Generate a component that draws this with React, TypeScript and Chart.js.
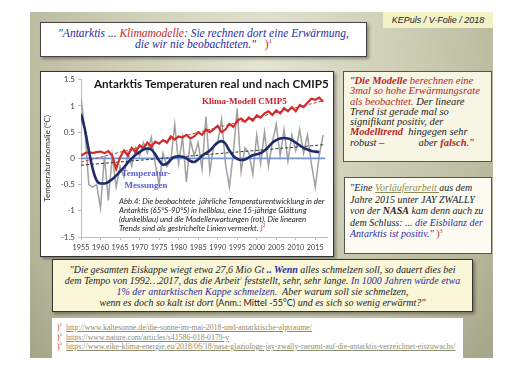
import React, { useEffect, useRef } from "react";
import Chart from "chart.js/auto";

// ---------- data ----------
const years = [
  1955, 1956, 1957, 1958, 1959, 1960, 1961, 1962, 1963, 1964,
  1965, 1966, 1967, 1968, 1969, 1970, 1971, 1972, 1973, 1974,
  1975, 1976, 1977, 1978, 1979, 1980, 1981, 1982, 1983, 1984,
  1985, 1986, 1987, 1988, 1989, 1990, 1991, 1992, 1993, 1994,
  1995, 1996, 1997, 1998, 1999, 2000, 2001, 2002, 2003, 2004,
  2005, 2006, 2007, 2008, 2009, 2010, 2011, 2012, 2013, 2014,
  2015, 2016, 2017,
];
// observed annual anomalies (grey)
const observed = [
  1.15, 0.55, -0.5, -0.55, -0.5, -0.95, 0.05, -0.8, 0.05, -0.55,
  -0.15, -0.35, 0.1, -0.15, 0.2, 0.05, 0.3, 0.1, 0.4, -0.1,
  -0.5, 0.1, -0.15, -0.05, 0.65, -0.1, 0.4, -0.45, 0.35, 0.05,
  0.3, -0.2, 0.8, -0.25, 0.25, 0.3, 0.75, -0.1, -0.55, 0.1,
  0.95, -0.25, 0.2, 0.1, -0.3, 0.45, -0.1, 0.5, -0.15, 0.3,
  0.65, 0.05, 0.55, -0.05, 0.45, 0.15, 0.55, 0.1, 0.45, -0.1,
  -0.55, 0.05, 0.45,
];
// 15-year smoothing (dark blue)
const smoothYears = [
  1955, 1956, 1957, 1958, 1959, 1960, 1961, 1962, 1963, 1964,
  1965, 1966, 1967, 1968, 1969, 1970, 1971, 1972, 1973, 1974,
  1975, 1976, 1977, 1978, 1979, 1980, 1981, 1982, 1983, 1984,
  1985, 1986, 1987, 1988, 1989, 1990, 1991, 1992, 1993, 1994,
  1995, 1996, 1997, 1998, 1999, 2000, 2001, 2002, 2003, 2004,
  2005, 2006, 2007, 2008, 2009, 2010, 2011, 2012, 2013, 2014,
  2015, 2016,
];
const smoothed = [
  0.85, 0.55, 0.15, -0.2, -0.42, -0.48, -0.48, -0.45, -0.4, -0.33,
  -0.25, -0.17, -0.08, 0.0, 0.07, 0.12, 0.17, 0.19, 0.17, 0.08,
  -0.04, -0.12, -0.1, -0.02, 0.03, 0.04, 0.03, 0.0, -0.05, -0.07,
  -0.02, 0.05, 0.1, 0.15, 0.23, 0.3, 0.33, 0.28, 0.15, 0.05,
  -0.01, -0.03, -0.02, 0.02, 0.06, 0.08, 0.1, 0.15, 0.22, 0.3,
  0.35, 0.38, 0.39, 0.38, 0.35, 0.3, 0.25, 0.2, 0.17, 0.14,
  0.13, 0.12,
];
// CMIP5 model expectation (red)
const model = [
  0.05, 0.1, 0.12, 0.1, 0.12, 0.13, 0.1, 0.14, 0.05, -0.2,
  0.02, 0.15, 0.05, 0.2, 0.12, 0.25, 0.2, 0.3, 0.22, 0.32,
  0.28, 0.35, 0.3, 0.42, 0.36, 0.42, 0.4, 0.45, 0.38, 0.42,
  0.5, 0.45, 0.55, 0.5, 0.56, 0.62, 0.5, 0.55, 0.66, 0.6,
  0.72, 0.76, 0.7, 0.78, 0.72, 0.82, 0.78, 0.86, 0.9, 0.83,
  0.92, 0.86, 0.96, 0.9, 0.98, 0.9, 1.02, 0.98, 1.06, 1.14,
  1.12, 1.16, 1.08,
];
// linear trends (dashed)
const trendYears = [1955, 2017];
const modelTrend = [-0.07, 1.1];
const obsTrend = [-0.13, 0.26];
const zeroYears = [1955, 2017.5];
const zeroLine = [0, 0];

const xTickYears = [1955, 1960, 1965, 1970, 1975, 1980, 1985, 1990, 1995, 2000, 2005, 2010, 2015];
const xTickLabels = ["1955", "1960", "1965", "1970", "1975", "1980", "1985", "1990", "1995", "2000", "2005", "2010", "2015"];
const yTickValues = [-1.5, -1, -0.5, 0, 0.5, 1, 1.5];
const yTickLabels = ["-1.5", "-1", "-0.5", "0", "0.5", "1", "1.5"];

const pts = (xs: number[], ys: number[]) => xs.map((x, i) => ({ x, y: ys[i] }));

const SERIF = '"Liberation Serif", "Times New Roman", serif';
const SANS = 'Lato, "Liberation Sans", sans-serif';

function ChartCanvas() {
  const ref = useRef<HTMLCanvasElement | null>(null);
  useEffect(() => {
    if (!ref.current) return;
    const chart = new Chart(ref.current, {
      type: "line",
      data: {
        datasets: [
          {
            data: pts(smoothYears, smoothed),
            borderColor: "#1d2a6c",
            borderWidth: 2.6,
            pointRadius: 0,
            cubicInterpolationMode: "monotone",
            order: 1,
          },
          {
            data: pts(years, model),
            borderColor: "#d42a2c",
            borderWidth: 2.2,
            pointRadius: 0,
            tension: 0,
            order: 2,
          },
          {
            data: pts(trendYears, modelTrend),
            borderColor: "#b8403c",
            borderWidth: 1,
            borderDash: [3, 2],
            pointRadius: 0,
            order: 3,
          },
          {
            data: pts(trendYears, obsTrend),
            borderColor: "#333333",
            borderWidth: 1,
            borderDash: [3, 2],
            pointRadius: 0,
            order: 4,
          },
          {
            data: pts(zeroYears, zeroLine),
            borderColor: "#7494dc",
            borderWidth: 1.6,
            pointRadius: 0,
            order: 5,
          },
          {
            data: pts(years, observed),
            borderColor: "#a0a0a0",
            borderWidth: 1.5,
            pointRadius: 0,
            tension: 0,
            order: 6,
          },
        ],
      },
      options: {
        responsive: false,
        animation: false,
        devicePixelRatio: 1,
        layout: { padding: { top: 6, right: 6, left: 0, bottom: 0 } },
        plugins: { legend: { display: false }, tooltip: { enabled: false }, title: { display: false } },
        scales: {
          x: {
            type: "linear",
            min: 1955,
            max: 2018,
            afterBuildTicks: (s: any) => {
              s.ticks = xTickYears.map((v) => ({ value: v }));
            },
            afterFit: (s: any) => {
              s.height = 19;
            },
            grid: { drawOnChartArea: false, tickLength: 3, color: "#bdbdbd" },
            border: { color: "#bdbdbd" },
            ticks: {
              autoSkip: false,
              maxRotation: 0,
              padding: 3,
              color: "#404040",
              font: { family: SANS, size: 7.3 },
              callback: (_v: any, i: number) => xTickLabels[i],
            },
          },
          y: {
            min: -1.5,
            max: 1.5,
            afterBuildTicks: (s: any) => {
              s.ticks = yTickValues.map((v) => ({ value: v }));
            },
            afterFit: (s: any) => {
              s.width = 40;
            },
            grid: { drawOnChartArea: false, tickLength: 3, color: "#bdbdbd" },
            border: { color: "#bdbdbd" },
            ticks: {
              padding: 3,
              color: "#404040",
              font: { family: SANS, size: 8 },
              callback: (_v: any, i: number) => yTickLabels[i],
            },
            title: {
              display: true,
              text: "Temperaturanomalie (°C)",
              color: "#333",
              font: { family: SANS, size: 8 },
              padding: { top: 2, bottom: 0 },
            },
          },
        },
      } as any,
    });
    return () => chart.destroy();
  }, []);
  return <canvas ref={ref} width={292} height={184} style={{ display: "block", width: 292, height: 184 }} />;
}

const abs = (left: number, top: number, extra: React.CSSProperties = {}): React.CSSProperties => ({
  position: "absolute",
  left,
  top,
  whiteSpace: "nowrap",
  ...extra,
});

const RED = "#b8242a";
const BLUE = "#2b2ba0";
const supStyle = (size: number, color?: string): React.CSSProperties => ({
  fontSize: size,
  lineHeight: 0,
  verticalAlign: "super",
  color,
});

export default function App() {
  return (
    <div style={{ position: "absolute", left: 0, top: 0, width: 524, height: 370, background: "#fff", overflow: "hidden" }}>
      {/* slide background */}
      <div
        style={{
          position: "absolute",
          left: 30,
          top: 12,
          width: 463,
          height: 346,
          background: "radial-gradient(ellipse at 50% 15%, #e4e4d2 0%, #d0d0b8 40%, #b6b69a 80%, #a4a488 100%)",
        }}
      />
      {/* KEPuls label */}
      <div
        style={abs(383, 12, {
          width: 110,
          height: 16,
          background: "#f3f1c6",
          fontFamily: '"Liberation Sans", Arial, sans-serif',
          fontStyle: "italic",
          fontSize: 9,
          lineHeight: "16px",
          textAlign: "center",
          color: "#222",
        })}
      >
        KEPuls / V-Folie / 2018
      </div>
      {/* title box */}
      <div
        style={abs(40, 22, {
          width: 327,
          height: 35,
          boxSizing: "border-box",
          background: "#fff",
          border: "1px solid #444",
          boxShadow: "2px 2px 3px rgba(0,0,0,0.35)",
          fontFamily: SERIF,
          fontStyle: "italic",
          fontSize: 11.5,
          lineHeight: "10.5px",
          textAlign: "center",
          color: BLUE,
          paddingTop: 5,
        })}
      >
        <div>
          "Antarktis ... <span style={{ color: "#c0282c" }}>Klimamodelle</span>: Sie rechnen dort eine Erwärmung,
        </div>
        <div>
          die wir nie beobachteten."&nbsp;&nbsp; <span style={{ color: "#c0282c", fontStyle: "normal" }}>)<span style={supStyle(7)}>1</span></span>
        </div>
      </div>

      {/* chart box */}
      <div
        style={abs(40, 71, {
          width: 294,
          height: 186,
          boxSizing: "border-box",
          background: "#fff",
          border: "1px solid #333",
          boxShadow: "2px 2px 3px rgba(0,0,0,0.35)",
        })}
      >
        <ChartCanvas />
      </div>
      {/* chart overlays */}
      <div style={abs(94, 77, { fontFamily: SANS, fontWeight: 700, fontSize: 11.7, lineHeight: "12px", color: "#1a1a1a" })}>
        Antarktis Temperaturen real und nach CMIP5
      </div>
      <div style={abs(202, 95, { fontFamily: SERIF, fontWeight: 700, fontSize: 9, lineHeight: "12px", color: "#c8202a" })}>
        Klima-Modell CMIP5
      </div>
      <div
        style={abs(116, 167, {
          width: 60,
          textAlign: "center",
          fontFamily: SERIF,
          fontWeight: 700,
          fontSize: 9,
          lineHeight: "12px",
          color: "#5b5bd6",
        })}
      >
        <div>Temperatur-</div>
        <div>Messungen</div>
      </div>
      <div style={abs(119, 197, { fontFamily: SANS, fontStyle: "italic", fontSize: 7.8, lineHeight: "9px", color: "#222" })}>
        <div>Abb.4: Die beobachtete&nbsp; jährliche Temperaturentwicklung in der</div>
        <div>Antarktis (65°S-90°S) in hellblau, eine 15-jährige Glättung</div>
        <div>(dunkelblau) und die Modellerwartungen (rot). Die linearen</div>
        <div>
          Trends sind als gestrichelte Linien vermerkt. <span style={{ color: "#d02020" }}>)<span style={supStyle(5)}>1</span></span>
        </div>
      </div>

      {/* right box 1 */}
      <div
        style={abs(343, 71, {
          width: 149,
          height: 91,
          boxSizing: "border-box",
          background: "#f7f5e4",
          border: "1px solid #555",
          paddingLeft: 6,
          paddingTop: 4,
          fontFamily: SERIF,
          fontStyle: "italic",
          fontSize: 10.5,
          lineHeight: "10.3px",
          color: "#222",
        })}
      >
        <div>
          "<b style={{ color: RED }}>Die Modelle</b> <span style={{ color: RED }}>berechnen eine</span>
        </div>
        <div style={{ color: RED }}>3mal so hohe Erwärmungsrate</div>
        <div>
          <span style={{ color: RED }}>als beobachtet.</span> Der lineare
        </div>
        <div>Trend ist gerade mal so</div>
        <div>signifikant positiv, der</div>
        <div>
          <b style={{ color: RED }}>Modelltrend</b>&nbsp; hingegen sehr
        </div>
        <div>
          robust –&nbsp;&nbsp;&nbsp;&nbsp;&nbsp;&nbsp;&nbsp;&nbsp;&nbsp;&nbsp;&nbsp;&nbsp; aber <b style={{ color: RED }}>falsch</b>."
        </div>
      </div>

      {/* right box 2 */}
      <div
        style={abs(344, 177, {
          width: 148,
          height: 77,
          boxSizing: "border-box",
          background: "#fdfcf3",
          border: "1px solid #555",
          paddingLeft: 5,
          paddingTop: 4,
          fontFamily: SERIF,
          fontStyle: "italic",
          fontSize: 10,
          lineHeight: "11.5px",
          color: "#222",
        })}
      >
        <div>
          "Eine <span style={{ color: "#8c8c58", textDecoration: "underline" }}>Vorläuferarbeit </span>aus dem
        </div>
        <div>Jahre 2015 unter JAY ZWALLY</div>
        <div>
          von der <b>NASA</b> kam denn auch zu
        </div>
        <div>
          dem Schluss: ... <span style={{ color: BLUE }}>die Eisbilanz der</span>
        </div>
        <div>
          <span style={{ color: BLUE }}>Antarktis ist positiv."</span>{" "}
          <span style={{ color: "#c0282c", fontStyle: "normal" }}>)<span style={supStyle(6)}>3</span></span>
        </div>
      </div>

      {/* bottom box */}
      <div
        style={abs(52, 259, {
          width: 421,
          height: 53,
          boxSizing: "border-box",
          background: "#faf7d9",
          border: "1px solid #333",
          boxShadow: "2px 2px 3px rgba(0,0,0,0.35)",
          paddingTop: 4,
          fontFamily: SERIF,
          fontStyle: "italic",
          fontSize: 10,
          lineHeight: "11px",
          textAlign: "center",
          color: "#222",
        })}
      >
        <div>
          "Die gesamten Eiskappe wiegt etwa 27,6 Mio Gt <b style={{ color: BLUE }}>.. Wenn</b> alles schmelzen soll, so dauert dies bei
        </div>
        <div>
          dem Tempo von 1992…2017, das die Arbeit<span style={supStyle(5, "#c0282c")}>2</span> feststellt, sehr, sehr lange.{" "}
          <span style={{ color: BLUE }}>In 1000 Jahren würde etwa</span>
        </div>
        <div>
          <span style={{ color: BLUE }}>1% der antarktischen Kappe schmelzen.</span>&nbsp; Aber warum soll sie schmelzen,
        </div>
        <div>
          wenn es doch so kalt ist dort{" "}
          <span style={{ fontStyle: "normal", fontFamily: SANS, fontSize: 9 }}>(Anm.: Mittel -55°C)</span> und es sich so wenig erwärmt?"
        </div>
      </div>

      {/* footnotes */}
      <div
        style={abs(52, 318, {
          width: 411,
          height: 40,
          background: "#fff",
          paddingLeft: 5,
          paddingTop: 5,
          boxSizing: "border-box",
          fontFamily: SERIF,
          fontSize: 7.8,
          lineHeight: "9.5px",
          color: "#8c8c70",
        })}
      >
        <div>
          <span style={{ color: "#c0282c" }}>)<span style={supStyle(5)}>1</span></span>&nbsp;{" "}
          <span style={{ textDecoration: "underline" }}>http://www.kaltesonne.de/die-sonne-im-mai-2018-und-antarktische-alptraume/</span>
        </div>
        <div>
          <span style={{ color: "#c0282c" }}>)<span style={supStyle(5)}>2</span></span>&nbsp;{" "}
          <span style={{ textDecoration: "underline" }}>https://www.nature.com/articles/s41586-018-0179-y</span>
        </div>
        <div>
          <span style={{ color: "#c0282c" }}>)<span style={supStyle(5)}>3</span></span>&nbsp;{" "}
          <span style={{ textDecoration: "underline" }}>
            https://www.eike-klima-energie.eu/2018/06/18/nasa-glaziologe-jay-zwally-raeumt-auf-die-antarktis-verzeichnet-eiszuwachs/
          </span>
        </div>
      </div>
    </div>
  );
}
